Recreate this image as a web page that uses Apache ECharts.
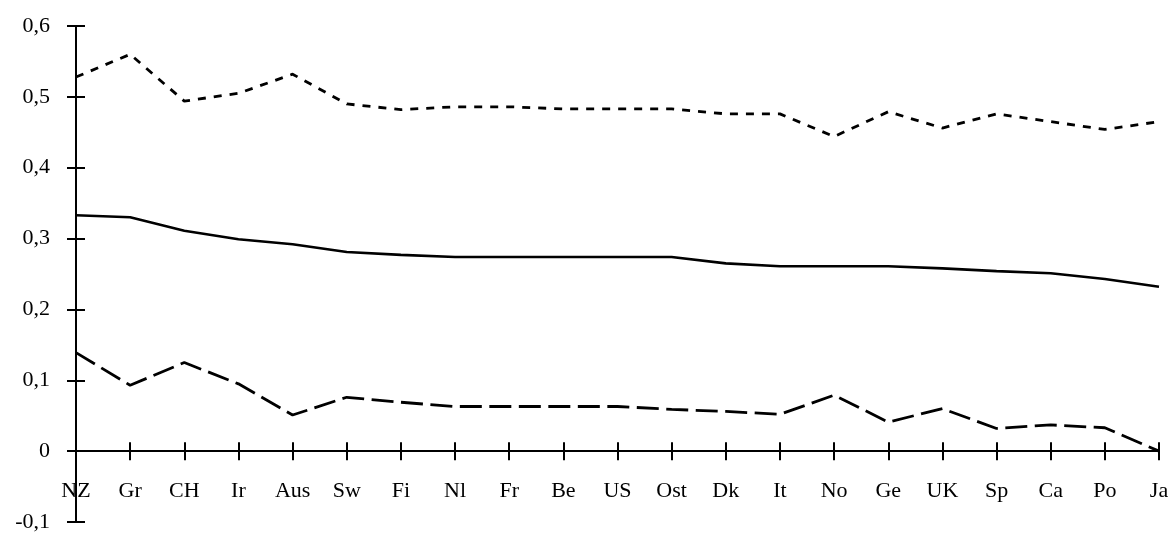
<!DOCTYPE html>
<html>
<head>
<meta charset="utf-8">
<script src="https://cdn.jsdelivr.net/npm/echarts@6/dist/echarts.min.js"></script>
<style>html,body{margin:0;padding:0;background:#fff}#c{width:1171px;height:533px}</style>
</head>
<body>
<div id="c"></div>
<script>
const categories = ['NZ','Gr','CH','Ir','Aus','Sw','Fi','Nl','Fr','Be','US','Ost','Dk','It','No','Ge','UK','Sp','Ca','Po','Ja'];
const upperSeries = [0.528,0.560,0.494,0.505,0.532,0.490,0.482,0.486,0.486,0.483,0.483,0.483,0.476,0.476,0.444,0.479,0.456,0.476,0.465,0.454,0.465];
const middleSeries = [0.333,0.330,0.311,0.299,0.292,0.281,0.277,0.274,0.274,0.274,0.274,0.274,0.265,0.261,0.261,0.261,0.258,0.254,0.251,0.243,0.232];
const lowerSeries = [0.139,0.093,0.125,0.095,0.051,0.076,0.069,0.063,0.063,0.063,0.063,0.059,0.056,0.052,0.079,0.041,0.060,0.032,0.037,0.033,0.000];
const yMin = -0.1, yMax = 0.6, yStep = 0.1;

const font = 'Liberation Serif';
const axisLineStyle = {color:'#000', width:2};
const fmt = v => { const r = Math.round(v*10)/10; return String(r).replace('.', ','); };

const chart = echarts.init(document.getElementById('c'), null, {renderer:'canvas'});
chart.setOption({
  animation:false,
  backgroundColor:'#fff',
  grid:{left:76, right:12, top:26, bottom:11, containLabel:false, outerBoundsMode:'none'},
  xAxis:[
    {type:'category', data:categories, boundaryGap:false, position:'bottom',
     axisLine:{onZero:true, lineStyle:axisLineStyle},
     axisTick:{show:true, length:9, inside:false, lineStyle:axisLineStyle},
     axisLabel:{color:'#000', fontFamily:font, fontSize:22, margin:-42, interval:0},
     splitLine:{show:false}},
    {type:'category', data:categories, boundaryGap:false, position:'bottom',
     axisLine:{onZero:true, lineStyle:axisLineStyle},
     axisTick:{show:true, length:9, inside:true, lineStyle:axisLineStyle},
     axisLabel:{show:false}, splitLine:{show:false}}
  ],
  yAxis:[
    {type:'value', min:yMin, max:yMax, interval:yStep, position:'left',
     axisLine:{show:true, onZero:false, lineStyle:axisLineStyle},
     axisTick:{show:true, length:9, inside:false, lineStyle:axisLineStyle},
     axisLabel:{color:'#000', fontFamily:font, fontSize:22, margin:26, formatter:fmt},
     splitLine:{show:false}},
    {type:'value', min:yMin, max:yMax, interval:yStep, position:'left',
     axisLine:{show:true, onZero:false, lineStyle:axisLineStyle},
     axisTick:{show:true, length:-9, inside:false, lineStyle:axisLineStyle},
     axisLabel:{show:false}, splitLine:{show:false}}
  ],
  series:[
    {type:'line', data:upperSeries, xAxisIndex:0, yAxisIndex:0, showSymbol:false, symbol:'none',
     lineStyle:{color:'#000', width:2.8, type:[8,8]}},
    {type:'line', data:middleSeries, xAxisIndex:0, yAxisIndex:0, showSymbol:false, symbol:'none',
     lineStyle:{color:'#000', width:2.6, type:'solid'}},
    {type:'line', data:lowerSeries, xAxisIndex:0, yAxisIndex:0, showSymbol:false, symbol:'none',
     lineStyle:{color:'#000', width:2.8, type:[22,7.5]}}
  ]
});
</script>
</body>
</html>
